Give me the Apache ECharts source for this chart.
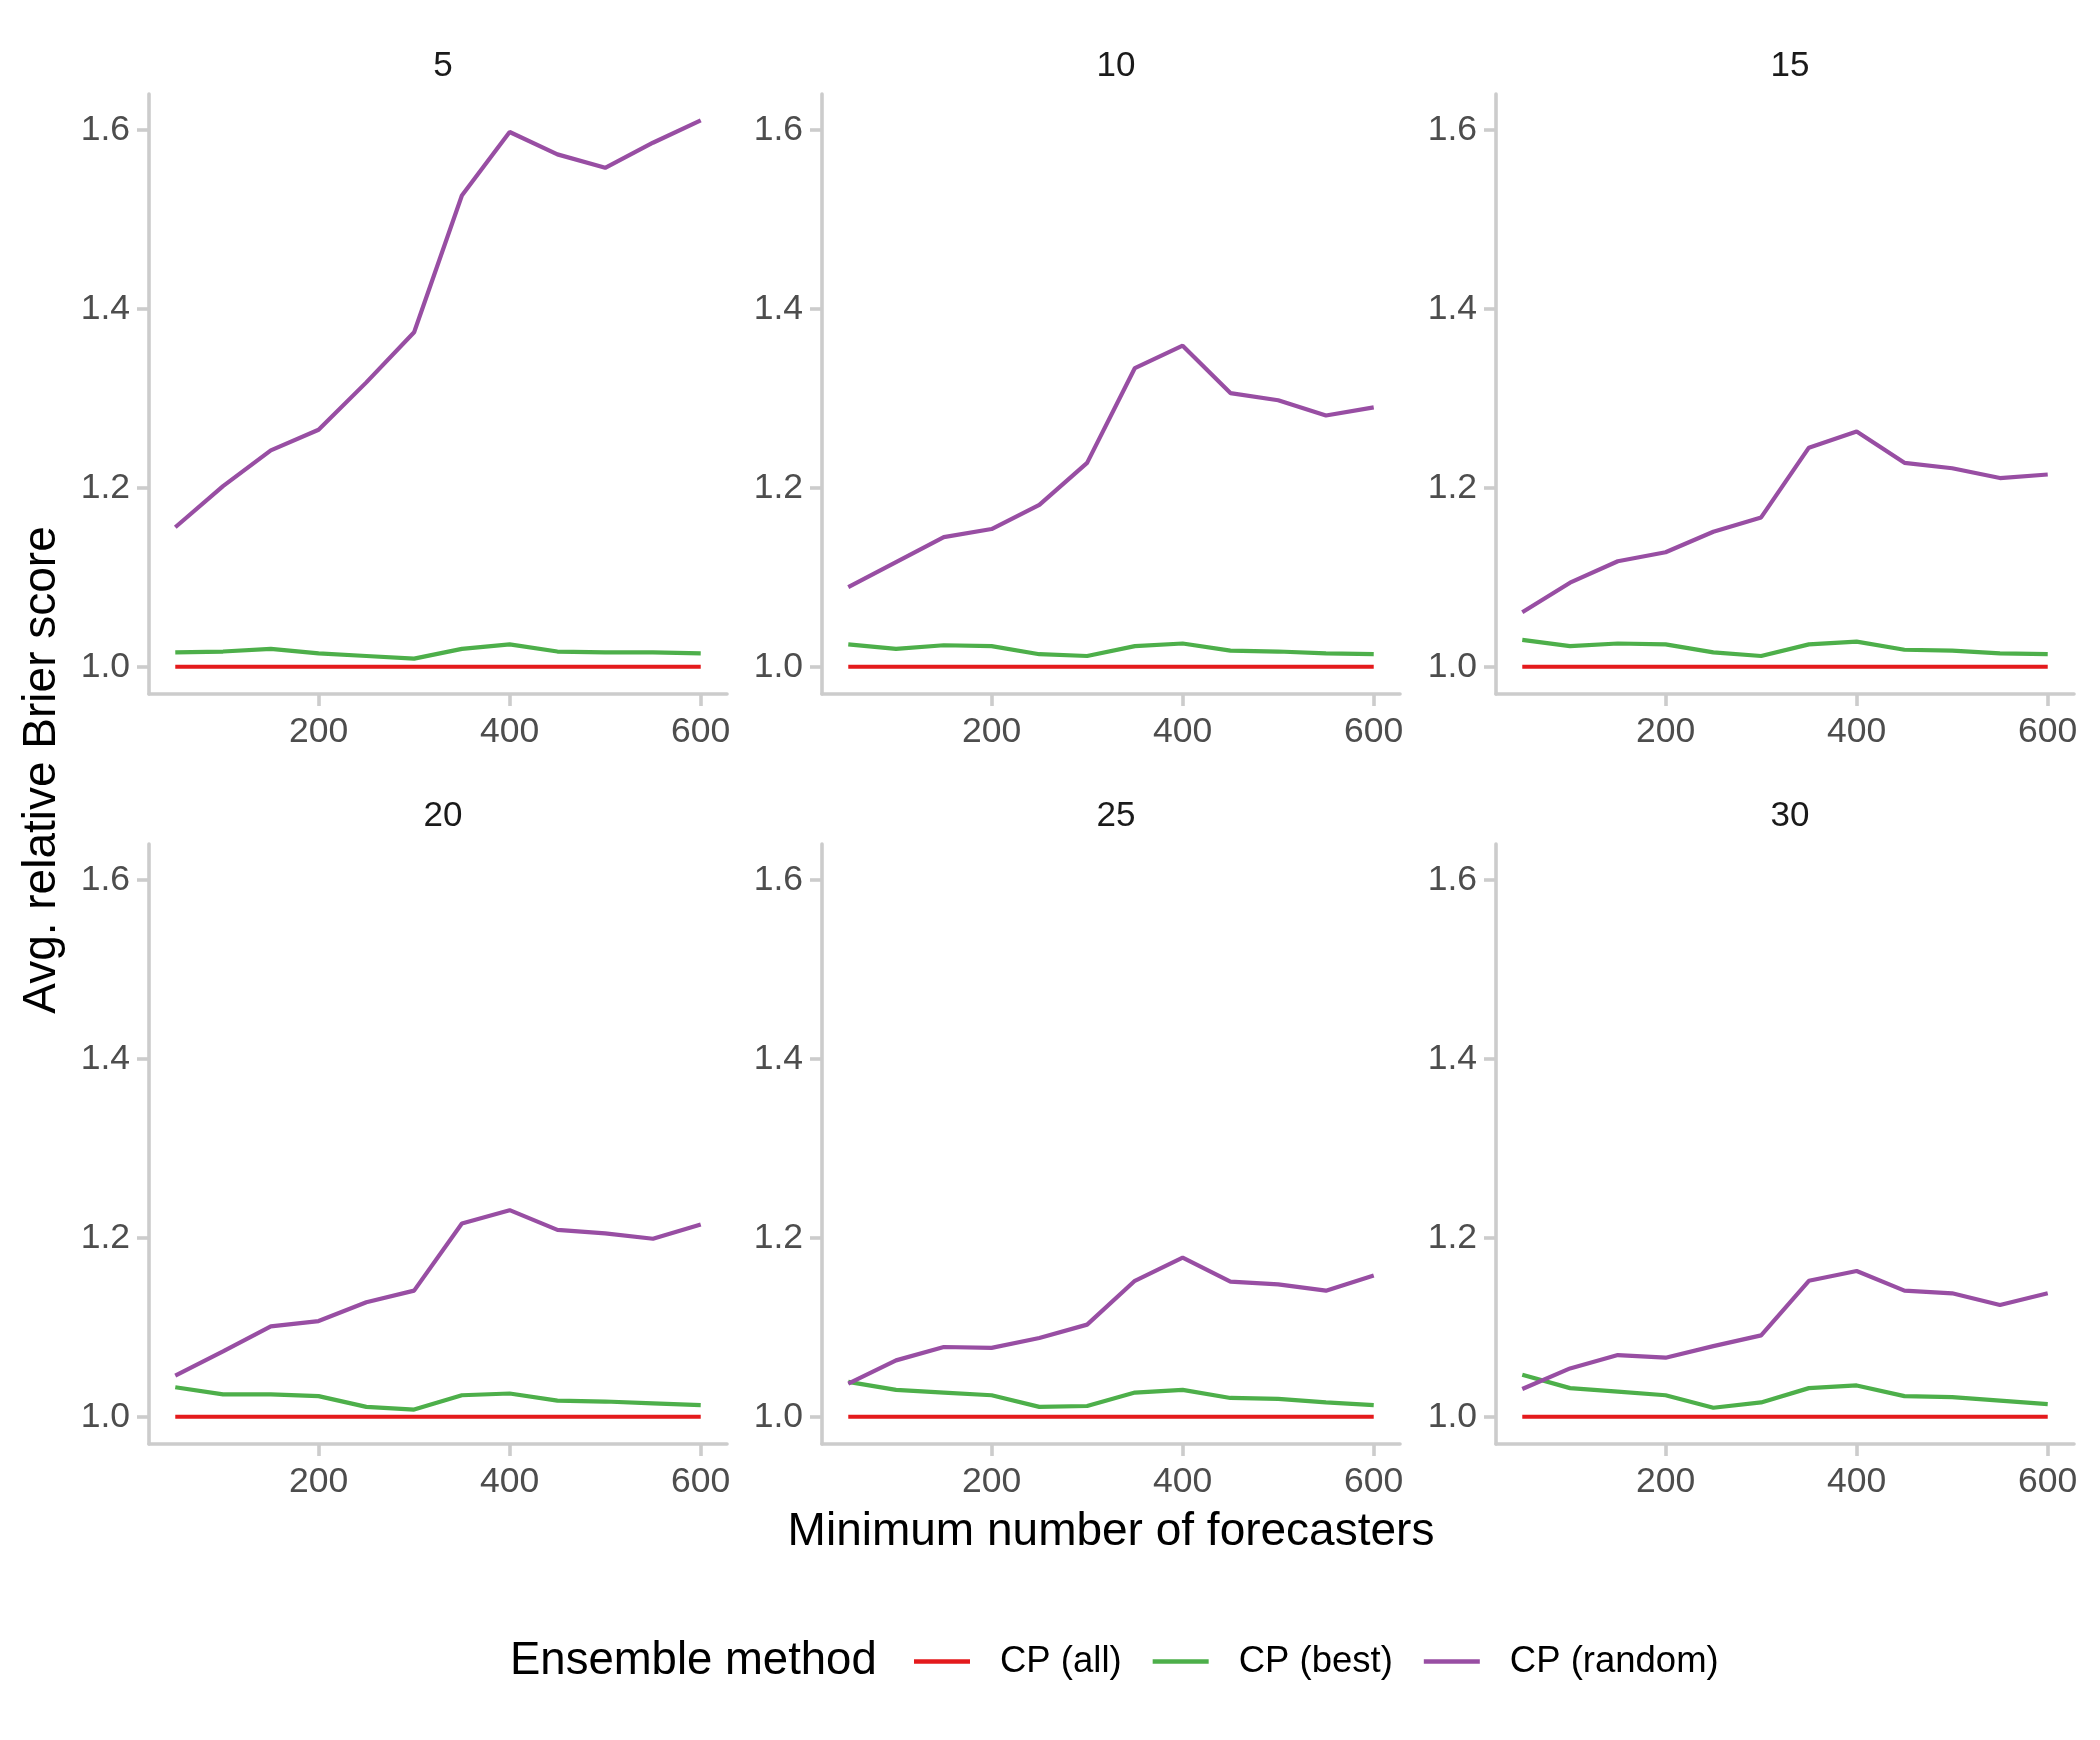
<!DOCTYPE html>
<html>
<head>
<meta charset="utf-8">
<script src="https://cdn.jsdelivr.net/npm/echarts@6/dist/echarts.min.js"></script>
<style>
html,body{margin:0;padding:0;background:#fff;}
#chart{width:2100px;height:1740px;}
</style>
</head>
<body>
<div id="chart"></div>
<script>
// ---- data ----
const panelTitles = ['5', '10', '15', '20', '25', '30'];
const minForecasters = [50, 100, 150, 200, 250, 300, 350, 400, 450, 500, 550, 600];
const xTicks = [200, 400, 600];
const yTicks = [1.0, 1.2, 1.4, 1.6];
const seriesNames = ['CP (all)', 'CP (best)', 'CP (random)'];

const cpAll = [1, 1, 1, 1, 1, 1, 1, 1, 1, 1, 1, 1];

const best5  = [1.016, 1.017, 1.020, 1.015, 1.012, 1.009, 1.020, 1.025, 1.017, 1.016, 1.016, 1.015];
const best10 = [1.025, 1.020, 1.024, 1.023, 1.014, 1.012, 1.023, 1.026, 1.018, 1.017, 1.015, 1.014];
const best15 = [1.030, 1.023, 1.026, 1.025, 1.016, 1.012, 1.025, 1.028, 1.019, 1.018, 1.015, 1.014];
const best20 = [1.033, 1.025, 1.025, 1.023, 1.011, 1.008, 1.024, 1.026, 1.018, 1.017, 1.015, 1.013];
const best25 = [1.039, 1.030, 1.027, 1.024, 1.011, 1.012, 1.027, 1.030, 1.021, 1.020, 1.016, 1.013];
const best30 = [1.047, 1.032, 1.028, 1.024, 1.010, 1.016, 1.032, 1.035, 1.023, 1.022, 1.018, 1.014];

const random5  = [1.156, 1.202, 1.242, 1.265, 1.318, 1.374, 1.527, 1.598, 1.573, 1.558, 1.586, 1.611];
const random10 = [1.089, 1.117, 1.145, 1.154, 1.181, 1.228, 1.334, 1.359, 1.306, 1.298, 1.281, 1.290];
const random15 = [1.061, 1.094, 1.118, 1.128, 1.151, 1.167, 1.245, 1.263, 1.228, 1.222, 1.211, 1.215];
const random20 = [1.046, 1.073, 1.101, 1.107, 1.128, 1.141, 1.216, 1.231, 1.209, 1.205, 1.199, 1.215];
const random25 = [1.037, 1.063, 1.078, 1.077, 1.088, 1.103, 1.152, 1.178, 1.151, 1.148, 1.141, 1.158];
const random30 = [1.031, 1.054, 1.069, 1.066, 1.079, 1.091, 1.152, 1.163, 1.141, 1.138, 1.125, 1.138];

const bestByPanel = [best5, best10, best15, best20, best25, best30];
const randomByPanel = [random5, random10, random15, random20, random25, random30];

// ---- layout / style ----
const FONT = "'Liberation Sans', Arial, Helvetica, sans-serif";
const colors = ['#E41A1C', '#4DAF4A', '#984EA3'];
const colLefts = [149, 822, 1496];
const rowTops = [94, 844];
const gridW = 578, gridH = 600;
const axisGray = '#CCCCCC';

const grids = [], xAxes = [], yAxes = [], series = [], titles = [];
const zip = (xs, ys) => xs.map((x, i) => [x, ys[i]]);

panelTitles.forEach((t, i) => {
  const row = Math.floor(i / 3), col = i % 3;
  grids.push({ left: colLefts[col], top: rowTops[row], width: gridW, height: gridH });
  titles.push({
    text: t, left: colLefts[col] + gridW / 2, top: rowTops[row] - 50, textAlign: 'center',
    textStyle: { fontFamily: FONT, fontSize: 35, fontWeight: 'normal', color: '#1A1A1A' }
  });
  xAxes.push({
    type: 'value', gridIndex: i, min: 22.5, max: 627.5,
    axisLine: { show: true, onZero: false, lineStyle: { color: axisGray, width: 3.6 } },
    axisTick: { show: true, length: 12, customValues: xTicks, lineStyle: { color: axisGray, width: 3.6 } },
    axisLabel: { customValues: xTicks, margin: 20, fontFamily: FONT, fontSize: 35.5, color: '#4D4D4D',
      formatter: v => String(v) },
    splitLine: { show: false }
  });
  yAxes.push({
    type: 'value', gridIndex: i, min: 0.9695, max: 1.6405,
    axisLine: { show: true, onZero: false, lineStyle: { color: axisGray, width: 3.6 } },
    axisTick: { show: true, length: 12, customValues: yTicks, lineStyle: { color: axisGray, width: 3.6 } },
    axisLabel: { customValues: yTicks, margin: 19, fontFamily: FONT, fontSize: 35.5, color: '#4D4D4D',
      formatter: v => v.toFixed(1) },
    splitLine: { show: false }
  });
  const vals = [cpAll, bestByPanel[i], randomByPanel[i]];
  vals.forEach((arr, k) => {
    series.push({
      name: seriesNames[k], type: 'line', xAxisIndex: i, yAxisIndex: i,
      data: zip(minForecasters, arr), showSymbol: false, symbol: 'none',
      lineStyle: { color: colors[k], width: 4.2 }, itemStyle: { color: colors[k] },
      animation: false, z: 2 + k
    });
  });
});

const chart = echarts.init(document.getElementById('chart'));
chart.setOption({
  backgroundColor: '#fff',
  animation: false,
  title: titles,
  grid: grids,
  xAxis: xAxes,
  yAxis: yAxes,
  series: series,
  legend: {
    data: seriesNames, left: 909, top: 1638, orient: 'horizontal',
    icon: 'rect', itemWidth: 56, itemHeight: 4.5, itemGap: 31,
    textStyle: { fontFamily: FONT, fontSize: 36.5, color: '#000', padding: [0, 0, 0, 25] }
  },
  graphic: [
    { type: 'text', left: 510, top: 1638,
      style: { text: 'Ensemble method', fontFamily: FONT, fontSize: 45.5, fill: '#000' } },
    { type: 'text', x: 1111, y: 1532,
      style: { text: 'Minimum number of forecasters', fontFamily: FONT, fontSize: 46, fill: '#000',
        align: 'center', verticalAlign: 'middle' } },
    { type: 'text', x: 42, y: 770, rotation: Math.PI / 2,
      style: { text: 'Avg. relative Brier score', fontFamily: FONT, fontSize: 46, fill: '#000',
        align: 'center', verticalAlign: 'middle' } }
  ]
});
</script>
</body>
</html>
